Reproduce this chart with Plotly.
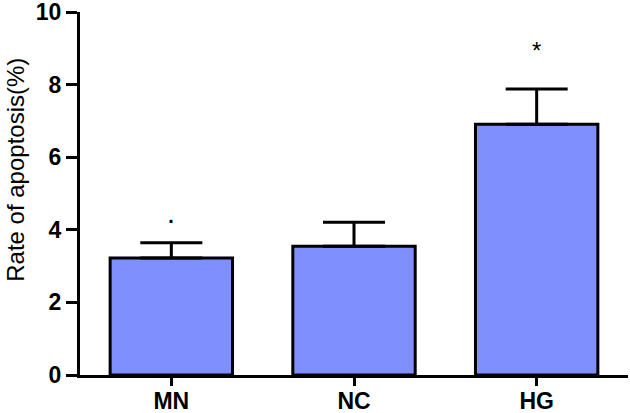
import plotly.graph_objects as go

groups = ["MN", "NC", "HG"]
rate = [3.22, 3.55, 6.91]
err_up = [0.42, 0.66, 0.97]
marks = ["·", "", "*"]
mark_y = [4.3, None, 8.95]

fig = go.Figure()
fig.add_trace(go.Bar(
    x=groups, y=rate, width=0.67,
    marker=dict(color="#7f8ffe", line=dict(color="black", width=3)),
    error_y=dict(type="data", symmetric=False, array=err_up,
                 arrayminus=[0, 0, 0], color="black", thickness=3, width=31),
))

for g, m, yy in zip(groups, marks, mark_y):
    if m:
        fig.add_annotation(x=g, y=yy, text=m, showarrow=False,
                           font=dict(size=24 if m == "*" else 30, color="black",
                                     family="Liberation Sans, Arial"))

# y title as annotation so it can sit a bit above the centre like the original
fig.add_annotation(text="Rate of apoptosis(%)", textangle=-90, showarrow=False,
                   xref="paper", yref="paper", x=-0.117, y=0.565,
                   xanchor="center", yanchor="middle",
                   font=dict(size=24, color="black"))

fig.update_layout(
    width=630, height=413,
    margin=dict(l=80, r=2, t=12, b=38, autoexpand=False),
    plot_bgcolor="white", paper_bgcolor="white",
    showlegend=False,
    font=dict(family="Liberation Sans, Arial", color="black"),
)
fig.update_xaxes(
    range=[-0.5, 2.5], showline=True, linecolor="black", linewidth=3,
    ticks="outside", ticklen=8, tickwidth=3, tickcolor="black",
    tickfont=dict(size=23, weight="bold"), ticklabelstandoff=-5,
    showgrid=False,
)
fig.update_yaxes(
    range=[0, 10], dtick=2, showline=True, linecolor="black", linewidth=3,
    ticks="outside", ticklen=11, tickwidth=3, tickcolor="black",
    tickfont=dict(size=23, weight="bold"), ticklabeloverflow="allow",
    showgrid=False, zeroline=False,
)

fig.write_html("out.html", config={"displayModeBar": False},
               post_script="document.body.style.margin='0';")
